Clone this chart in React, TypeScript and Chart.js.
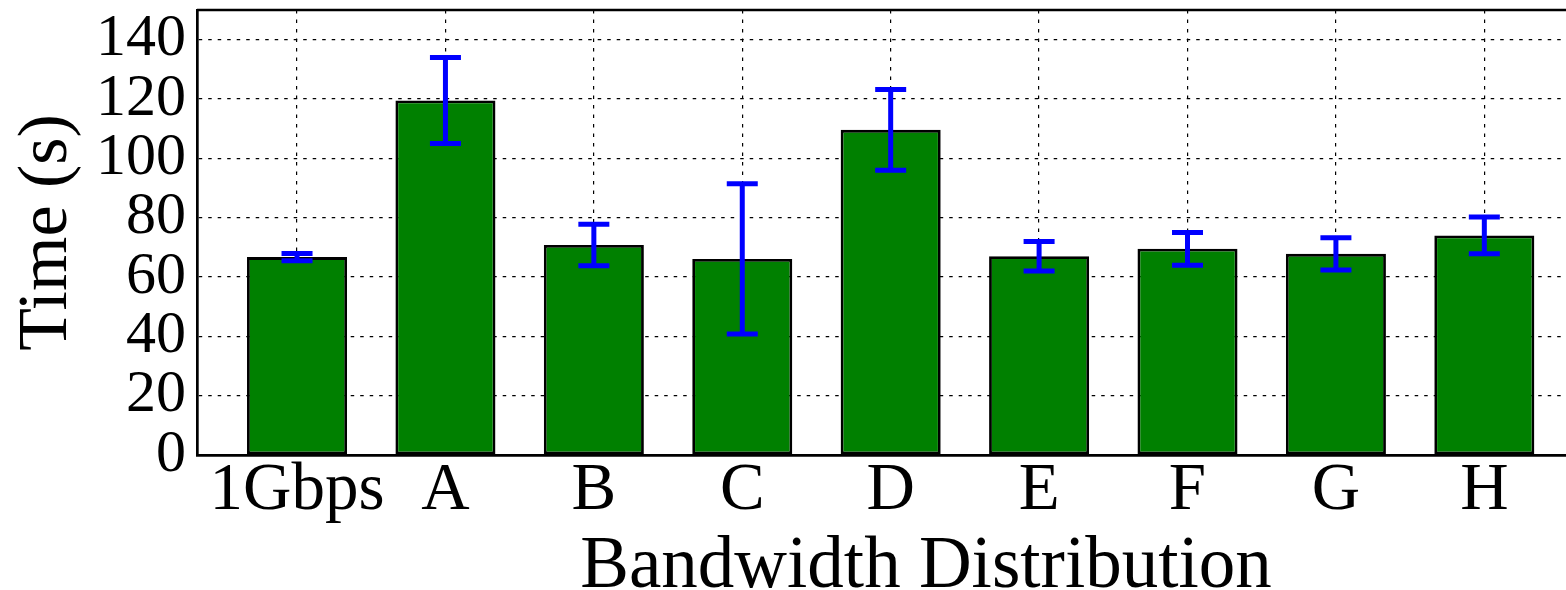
import React, { useEffect, useRef } from "react";
import { Chart, registerables } from "chart.js";

Chart.register(...registerables);

const categories = ["1Gbps", "A", "B", "C", "D", "E", "F", "G", "H"];
const meanTimes = [66.7, 119.5, 70.8, 66.1, 109.6, 67.0, 69.5, 67.8, 74.0];
const errorTimes = [1.2, 14.5, 7.0, 25.3, 13.6, 5.0, 5.5, 5.4, 6.2];
const yTicks = [0, 20, 40, 60, 80, 100, 120, 140];
const yMax = 150;
const xMin = -0.674;
const xMax = 9.15;
const xTitle = "Bandwidth Distribution";
const yTitle = "Time (s)";

const FONT = "'Liberation Serif', 'Times New Roman', serif";

const errorBarPlugin = {
  id: "errorBarsAndFrame",
  afterDraw(chart: any) {
    const { ctx, chartArea } = chart;
    const x = chart.scales.x;
    const y = chart.scales.y;
    ctx.save();
    ctx.strokeStyle = "#0000ff";
    ctx.lineWidth = 5;
    ctx.lineCap = "butt";
    const capHalf = 15.5;
    meanTimes.forEach((m, i) => {
      const px = x.getPixelForValue(i);
      const top = y.getPixelForValue(m + errorTimes[i]);
      const bot = y.getPixelForValue(m - errorTimes[i]);
      ctx.beginPath();
      ctx.moveTo(px, top);
      ctx.lineTo(px, bot);
      ctx.stroke();
      ctx.beginPath();
      ctx.moveTo(px - capHalf, top);
      ctx.lineTo(px + capHalf, top);
      ctx.moveTo(px - capHalf, bot);
      ctx.lineTo(px + capHalf, bot);
      ctx.stroke();
    });
    // top and right frame lines
    ctx.strokeStyle = "#000";
    ctx.lineWidth = 2.5;
    ctx.beginPath();
    ctx.moveTo(chartArea.left, chartArea.top);
    ctx.lineTo(chartArea.right, chartArea.top);
    ctx.lineTo(chartArea.right, chartArea.bottom);
    ctx.stroke();
    ctx.restore();
  },
};

export default function App() {
  const canvasRef = useRef<HTMLCanvasElement | null>(null);

  useEffect(() => {
    const canvas = canvasRef.current;
    if (!canvas) return;
    const chart = new Chart(canvas, {
      type: "bar",
      data: {
        datasets: [
          {
            label: "Time",
            data: meanTimes.map((v, i) => ({ x: i, y: v })),
            backgroundColor: "#008000",
            borderColor: "#000000",
            borderWidth: 2.8,
            borderSkipped: false,
            barPercentage: 0.674,
            categoryPercentage: 1,
          },
        ],
      },
      options: {
        responsive: false,
        animation: false,
        devicePixelRatio: 1,
        layout: { padding: { top: 10, right: 15, left: 0, bottom: 0 } },
        plugins: { legend: { display: false }, tooltip: { enabled: false } },
        scales: {
          x: {
            type: "linear",
            min: xMin,
            max: xMax,
            offset: false,
            z: 1,
            afterBuildTicks: (scale: any) => {
              scale.ticks = categories.map((_, i) => ({ value: i }));
            },
            afterFit: (scale: any) => {
              scale.height = 135;
              scale.paddingLeft = 0;
              scale.paddingRight = 0;
            },
            ticks: {
              autoSkip: false,
              maxRotation: 0,
              padding: 3,
              color: "#000",
              font: { family: FONT, size: 67, lineHeight: 1 },
              callback: (v: any) => categories[Math.round(Number(v))] ?? "",
            },
            grid: {
              color: "#000",
              lineWidth: 1.2,
              drawTicks: false,
              offset: false,
            },
            border: { display: true, color: "#000", width: 2.7, dash: [3.5, 6] },
            title: {
              display: true,
              text: xTitle,
              color: "#000",
              font: { family: FONT, size: 73, lineHeight: 1.2 },
              padding: { top: 0, bottom: -22 },
            },
          },
          y: {
            type: "linear",
            min: 0,
            max: yMax,
            z: 1,
            afterBuildTicks: (scale: any) => {
              scale.ticks = yTicks.map((v) => ({ value: v }));
            },
            afterFit: (scale: any) => {
              scale.width = 197;
              scale.paddingTop = 0;
              scale.paddingBottom = 0;
            },
            ticks: {
              autoSkip: false,
              padding: 11,
              color: "#000",
              font: { family: FONT, size: 60 },
            },
            grid: {
              color: "#000",
              lineWidth: 1.2,
              drawTicks: false,
            },
            border: { display: true, color: "#000", width: 2.7, dash: [3.5, 6] },
            title: {
              display: true,
              text: yTitle,
              color: "#000",
              font: { family: FONT, size: 70, lineHeight: 1.2 },
              padding: { top: 6, bottom: 0 },
            },
          },
        },
      },
      plugins: [errorBarPlugin],
    } as any);
    return () => chart.destroy();
  }, []);

  return (
    <div
      style={{
        position: "fixed",
        left: 0,
        top: 0,
        width: 1566,
        height: 590,
        overflow: "hidden",
        background: "#fff",
      }}
    >
      <canvas
        ref={canvasRef}
        width={1670}
        height={590}
        style={{ width: 1670, height: 590, display: "block" }}
      />
    </div>
  );
}
